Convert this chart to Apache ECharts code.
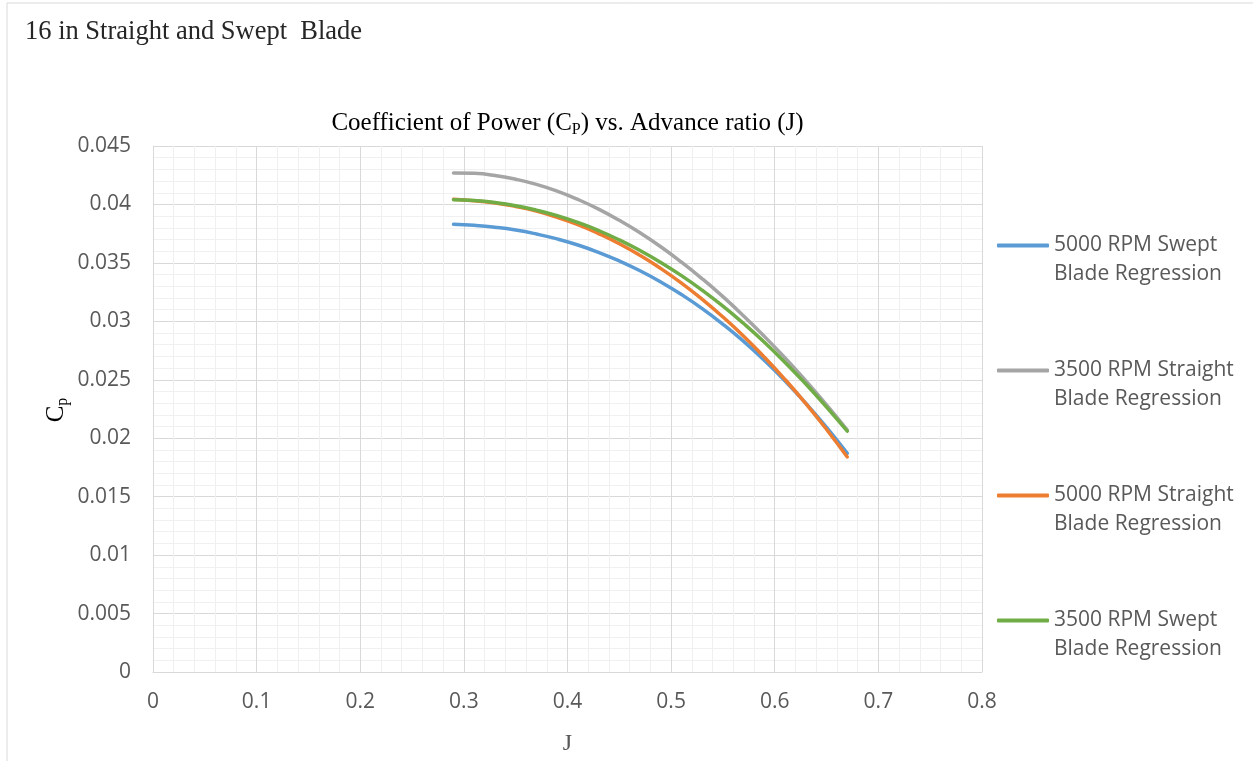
<!DOCTYPE html>
<html>
<head>
<meta charset="utf-8">
<script src="https://cdn.jsdelivr.net/npm/echarts@6/dist/echarts.min.js"></script>
<style>
html,body{margin:0;padding:0;background:#fff;}
#chart{width:1253px;height:761px;}
</style>
</head>
<body>
<div id="chart"></div>
<script>
// ---- data ----
const pageTitle = '16 in Straight and Swept  Blade';
const seriesNames = [
  '5000 RPM Swept\nBlade Regression',
  '3500 RPM Straight\nBlade Regression',
  '5000 RPM Straight\nBlade Regression',
  '3500 RPM Swept\nBlade Regression'
];
const jValues      = [0.29, 0.31, 0.33, 0.35, 0.37, 0.39, 0.41, 0.43, 0.45, 0.47,
                      0.49, 0.51, 0.53, 0.55, 0.57, 0.59, 0.61, 0.63, 0.65, 0.67];
const swept5000    = [0.0383, 0.03821, 0.03805, 0.03781, 0.03747, 0.03705, 0.03653, 0.0359, 0.03517, 0.03433,
                      0.03337, 0.03229, 0.03109, 0.02975, 0.02828, 0.02666, 0.0249, 0.02299, 0.02093, 0.0187];
const straight3500 = [0.0427, 0.04266, 0.04248, 0.04216, 0.04172, 0.04114, 0.04043, 0.0396, 0.03864, 0.03757,
                      0.03638, 0.03506, 0.03364, 0.03211, 0.03046, 0.02871, 0.02686, 0.0249, 0.02285, 0.0207];
const straight5000 = [0.04045, 0.04032, 0.04013, 0.03983, 0.03943, 0.0389, 0.03827, 0.03751, 0.03664, 0.03564,
                      0.03452, 0.03327, 0.03188, 0.03037, 0.02873, 0.02694, 0.02502, 0.02296, 0.02075, 0.0184];
const swept3500    = [0.0404, 0.04033, 0.04016, 0.03989, 0.03951, 0.03904, 0.03846, 0.03777, 0.03697, 0.03606,
                      0.03504, 0.03391, 0.03266, 0.0313, 0.02981, 0.02821, 0.02648, 0.02464, 0.02266, 0.0206];
const colors = ['#5B9BD5', '#A5A5A5', '#ED7D31', '#70AD47'];

const seriesValues = [swept5000, straight3500, straight5000, swept3500];
const pairs = vals => jValues.map((j, i) => [j, vals[i]]);

const chart = echarts.init(document.getElementById('chart'), null, {renderer: 'canvas'});
const sans = '"Open Sans", sans-serif';
const serif = '"Liberation Serif", "Times New Roman", serif';

chart.setOption({
  animation: false,
  backgroundColor: '#fff',
  graphic: [
    {type: 'rect', shape: {x: 7, y: 3, width: 1400, height: 900}, style: {fill: 'none', stroke: '#d9d9d9', lineWidth: 1}, silent: true, z: -10},
    {type: 'text', left: 25, top: 19, style: {text: pageTitle, font: '26.5px ' + serif, fill: '#262626'}},
    {type: 'text', x: 567.5, y: 110, style: {
      text: '{t|Coefficient of Power (C}{s|P}{t|) vs. Advance ratio (J)}',
      align: 'center', verticalAlign: 'top',
      rich: {
        t: {fontFamily: serif, fontSize: 25, color: '#595959', lineHeight: 27},
        s: {fontFamily: serif, fontSize: 16, color: '#595959', lineHeight: 16, padding: [13, 0, 0, 0]}
      }
    }},
    {type: 'text', x: 56, y: 410, rotation: Math.PI / 2, style: {
      text: '{c|C}{s|p}',
      align: 'center', verticalAlign: 'middle',
      rich: {
        c: {fontFamily: serif, fontSize: 25, color: '#595959', lineHeight: 27},
        s: {fontFamily: serif, fontSize: 16, color: '#595959', lineHeight: 16, padding: [13, 0, 0, 0]}
      }
    }}
  ],
  grid: {left: 153, right: 271, top: 146, bottom: 89, containLabel: false},
  legend: {
    orient: 'vertical',
    left: 997, top: 202,
    padding: 0,
    itemGap: 38,
    itemWidth: 52, itemHeight: 4,
    icon: 'roundRect',
    formatter: name => ' \n' + name,
    textStyle: {fontFamily: sans, fontSize: 21, color: '#595959', lineHeight: 29},
    data: seriesNames
  },
  xAxis: {
    type: 'value', min: 0, max: 0.8, interval: 0.1,
    name: 'J', nameLocation: 'middle', nameGap: 60,
    nameTextStyle: {fontFamily: serif, fontSize: 24, color: '#595959'},
    axisLine: {show: true, lineStyle: {color: '#d9d9d9', width: 1}},
    axisTick: {show: false},
    axisLabel: {fontFamily: sans, fontSize: 21, color: '#595959', margin: 20},
    splitLine: {show: true, lineStyle: {color: '#d9d9d9', width: 1}},
    minorTick: {show: false, splitNumber: 5},
    minorSplitLine: {show: true, lineStyle: {color: '#f0f0f0', width: 1}}
  },
  yAxis: {
    type: 'value', min: 0, max: 0.045, interval: 0.005,
    axisLine: {show: true, lineStyle: {color: '#d9d9d9', width: 1}},
    axisTick: {show: false},
    axisLabel: {fontFamily: sans, fontSize: 21, color: '#595959', margin: 22},
    splitLine: {show: true, lineStyle: {color: '#d9d9d9', width: 1}},
    minorTick: {show: false, splitNumber: 5},
    minorSplitLine: {show: true, lineStyle: {color: '#f0f0f0', width: 1}}
  },
  series: seriesValues.map((vals, i) => ({
    name: seriesNames[i],
    type: 'line',
    data: pairs(vals),
    symbol: 'none',
    smooth: 0.5,
    color: colors[i],
    lineStyle: {color: colors[i], width: 3.5, cap: 'round'},
    z: 2 + i
  }))
});
</script>
</body>
</html>
